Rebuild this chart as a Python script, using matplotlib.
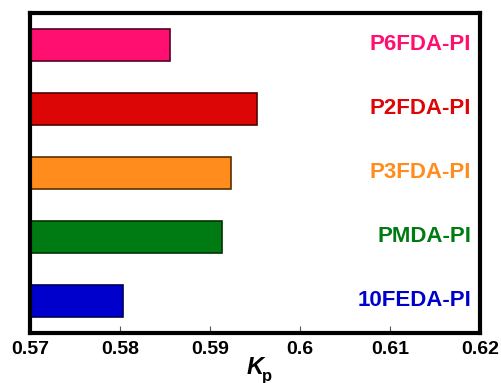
import numpy as np
import matplotlib.pyplot as plt

# data, bottom to top
names = ['10FEDA-PI', 'PMDA-PI', 'P3FDA-PI', 'P2FDA-PI', 'P6FDA-PI']
kp = [0.5803, 0.5913, 0.5923, 0.5952, 0.5856]
colors = ['#0000CC', '#007A12', '#FF8C1C', '#DD0606', '#FF0F6F']
edges = ['#000055', '#003300', '#5A3000', '#550000', '#550025']

plt.rcParams['font.family'] = ['Liberation Sans', 'DejaVu Sans']
plt.rcParams['font.weight'] = 'bold'

fig = plt.figure(figsize=(5.02, 3.83), dpi=100)
ax = fig.add_axes([30 / 502, 1 - 333 / 383, 450 / 502, 320 / 383])

y = np.arange(len(names))
ax.barh(y, np.array(kp) - 0.57, left=0.57, height=0.5,
        color=colors, edgecolor=edges, linewidth=1.2)

for yi, name, c in zip(y, names, colors):
    ax.text(0.619, yi, name, color=c, fontsize=16, fontweight='bold',
            ha='right', va='center')

ax.set_xlim(0.57, 0.62)
ax.set_ylim(-0.5, 4.5)
ax.set_xticks([0.57, 0.58, 0.59, 0.6, 0.61, 0.62])
ax.set_xticklabels(['0.57', '0.58', '0.59', '0.6', '0.61', '0.62'])
ax.set_yticks([])
ax.tick_params(axis='x', direction='in', length=5, width=0.8, color='#555555',
               labelsize=14, pad=6)
for lab in ax.get_xticklabels():
    lab.set_fontweight('bold')
for sp in ax.spines.values():
    sp.set_linewidth(3)

# axis label K_p, subscript partly below the figure edge as in the reference
fig.text(255 / 502, 1 - 367 / 383, 'K', fontsize=17, fontweight='bold',
         fontstyle='italic', ha='center', va='center')
fig.text(262 / 502, 1 - 377 / 383, 'p', fontsize=12, fontweight='bold',
         ha='left', va='center')

fig.savefig('out.png', dpi=100)
